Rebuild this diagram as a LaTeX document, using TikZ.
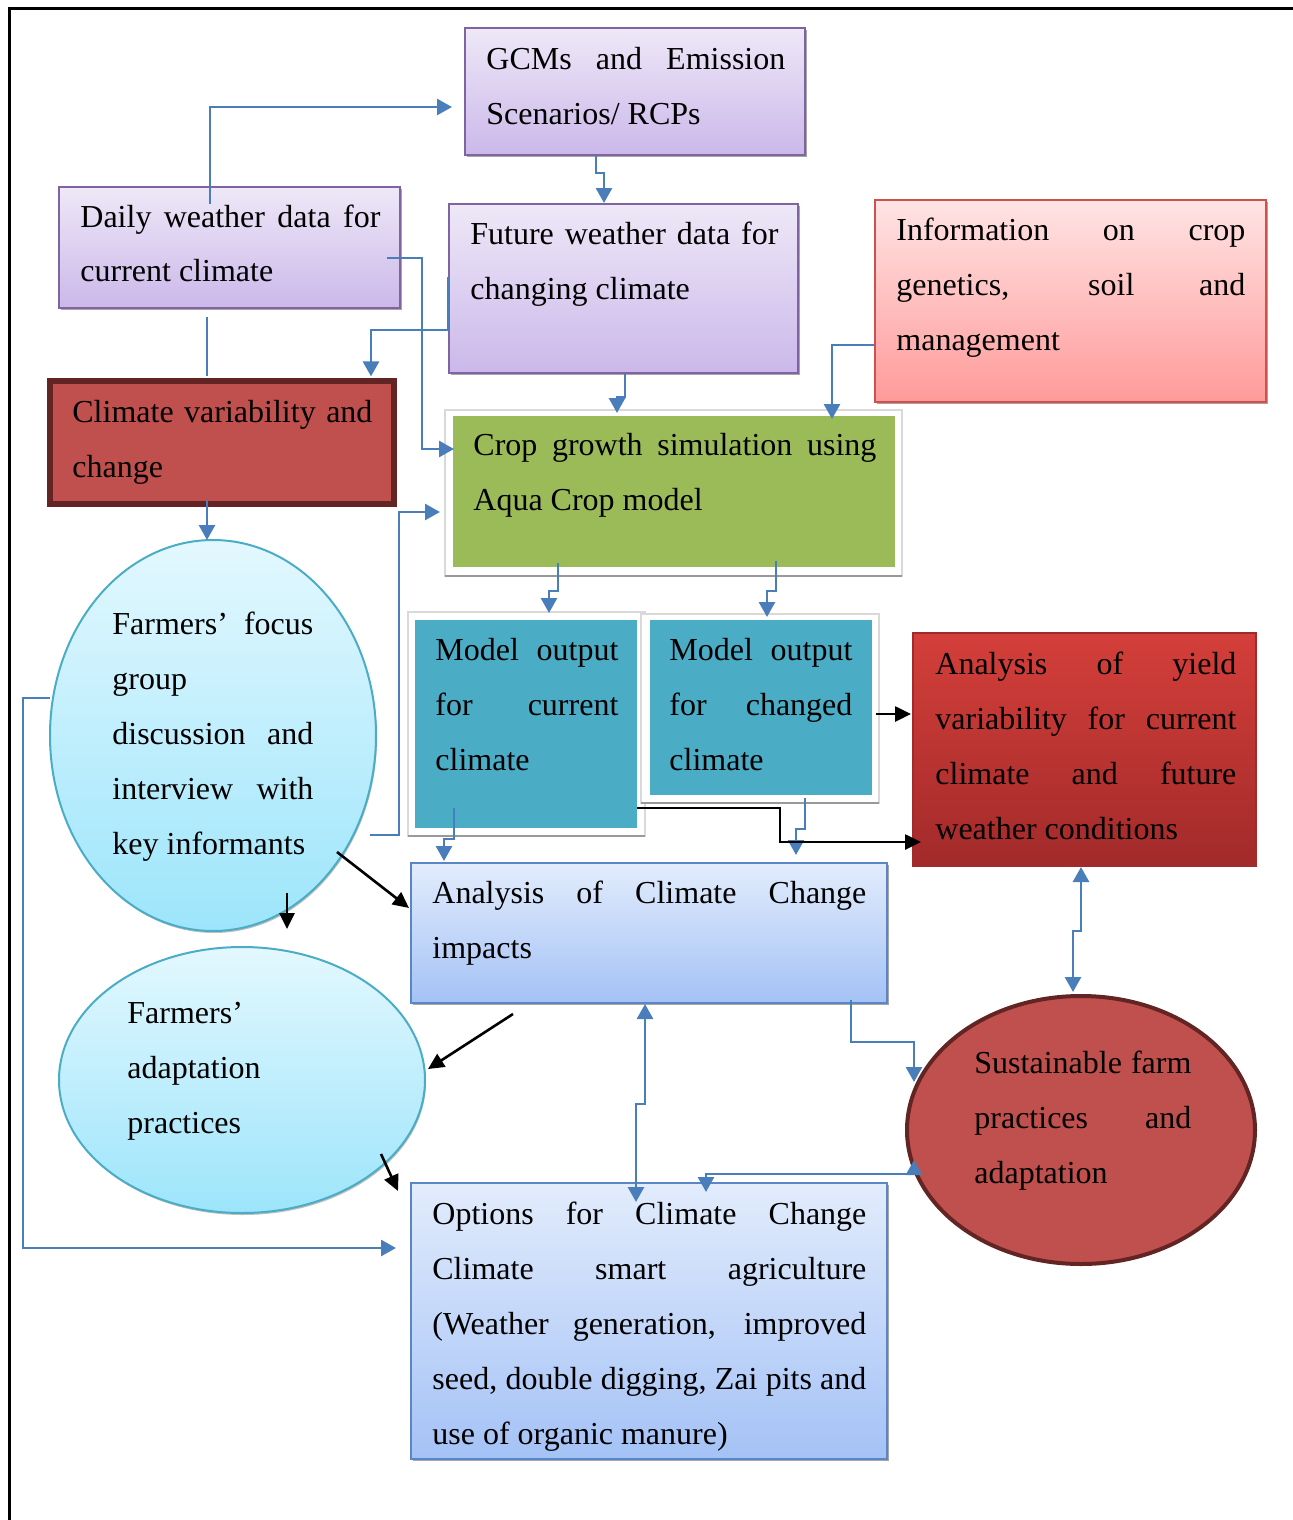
\documentclass[tikz,border=0pt]{standalone}
\usepackage{fontspec}
\setmainfont{Liberation Serif}
\usetikzlibrary{shapes.geometric,arrows.meta,calc,shadows}
\definecolor{lavTop}{HTML}{EEE8F7}
\definecolor{lavBot}{HTML}{CBB8EA}
\definecolor{lavLine}{HTML}{8064A2}
\definecolor{pinkTop}{HTML}{FFE4E4}
\definecolor{pinkBot}{HTML}{FF9A9A}
\definecolor{pinkLine}{HTML}{D0504D}
\definecolor{redTop}{HTML}{D43F3A}
\definecolor{redBot}{HTML}{A22A2A}
\definecolor{blTop}{HTML}{E2ECFC}
\definecolor{blBot}{HTML}{A4C2F6}
\definecolor{blLine}{HTML}{5B86C6}
\definecolor{cyTop}{HTML}{E3F8FE}
\definecolor{cyBot}{HTML}{9DE5FB}
\definecolor{cyLine}{HTML}{4BACC6}
\definecolor{cropGreen}{HTML}{9BBB59}
\definecolor{tealBox}{HTML}{4BACC6}
\definecolor{brick}{HTML}{C0504D}
\definecolor{darkBrick}{HTML}{632523}
\definecolor{conn}{HTML}{4A7EBB}
\newcommand\jl[1]{\makebox[\hsize][s]{\spaceskip=0pt\xspaceskip=0pt #1}}
\newcommand\bnode[6]{\node[#1, minimum width={(#5-#3)*0.5pt}, minimum height={(#6-#4)*0.5pt}] (#2) at ({(#3+#5)/2},{(#4+#6)/2}) {};}
\begin{document}
\begin{tikzpicture}[x=0.5pt,y=-0.5pt,
  shadowed/.style={drop shadow={shadow xshift=1pt,shadow yshift=-1pt,fill=black!35,opacity=1}},
  boxbase/.style={rectangle, inner sep=0pt, line width=1pt},
  lav/.style={boxbase, draw=lavLine, top color=lavTop, bottom color=lavBot, shadowed},
  pinkbox/.style={boxbase, draw=pinkLine, top color=pinkTop, bottom color=pinkBot, shadowed},
  redbox/.style={boxbase, draw=redBot, top color=redTop, bottom color=redBot},
  bluebox/.style={boxbase, draw=blLine, top color=blTop, bottom color=blBot, shadowed},
  greenbox/.style={boxbase, fill=cropGreen},
  tealbox/.style={boxbase, fill=tealBox},
  climbox/.style={boxbase, fill=brick, draw=darkBrick, line width=2.6pt},
  cyell/.style={ellipse, inner sep=0pt, line width=1pt, draw=cyLine, top color=cyTop, bottom color=cyBot, drop shadow={shadow xshift=0.5pt,shadow yshift=-1pt,fill=black!25,opacity=1}},
  redell/.style={ellipse, inner sep=0pt, fill=brick, draw=darkBrick, line width=2pt},
  frame/.style={draw=black!15, line width=0.6pt, fill=white},
  frameshadow/.style={draw=black!40, line width=1.2pt},
  txt/.style={anchor=base west, inner sep=0pt, align=flush left, font=\fontsize{16pt}{27.5pt}\selectfont},
  bl/.style={draw=conn, line width=1.4pt, -{Triangle[length=7.5pt,width=8pt]}},
  blb/.style={draw=conn, line width=1.4pt, {Triangle[length=7.5pt,width=8pt]}-{Triangle[length=7.5pt,width=8pt]}},
  bln/.style={draw=conn, line width=1.4pt},
  bk/.style={draw=black, line width=1.3pt, -{Triangle[length=8pt,width=7.5pt]}}
]
\useasboundingbox (0,0) rectangle (1293,1520);
% outer frame
\draw[line width=1.5pt] (9,1520) -- (9,9) -- (1293,9);

% frames behind boxes
\draw[frame] (445,410) rectangle (902,576);
\draw[frameshadow] (445,576) -- (902,576);
\draw[frame] (408,612) rectangle (645,836);
\draw[frameshadow] (408,836) -- (645,836);
\draw[frame] (641,614) rectangle (879,803);
\draw[frameshadow] (641,803) -- (879,803);

% boxes
\bnode{lav}{gcm}{465}{28}{805}{155}
\bnode{lav}{daily}{59}{187}{400}{308}
\bnode{lav}{future}{449}{204}{798}{373}
\bnode{pinkbox}{info}{875}{200}{1266}{402}
\bnode{climbox}{clim}{50}{381}{394}{504}
\bnode{greenbox}{crop}{453}{416}{895}{567}
\bnode{tealbox}{mcur}{415}{620}{637}{828}
\bnode{tealbox}{mchg}{650}{620}{872}{795}
\bnode{redbox}{ayield}{913}{633}{1256}{866}
\bnode{bluebox}{acc}{411}{863}{887}{1003}
\bnode{bluebox}{opt}{411}{1183}{887}{1459}
\node[cyell, minimum width=163pt, minimum height=195.5pt] (focus) at (213,735.5) {};
\node[cyell, minimum width=183pt, minimum height=133pt] (adapt) at (242,1080) {};
\node[redell, minimum width=174pt, minimum height=134pt] (sust) at (1081,1130) {};

% texts
\node[txt, text width=149.5pt] (gcmT) at (486,70) {\jl{GCMs and Emission}\\Scenarios/ RCPs};
\node[txt, text width=150pt] (dailyT) at (80,227) {\jl{Daily weather data for}\\current climate};
\node[txt, text width=154pt] (futureT) at (470,244) {\jl{Future weather data for}\\changing climate};
\node[txt, text width=174.5pt] (infoT) at (896,240) {\jl{Information on crop}\\\jl{genetics, soil and}\\management};
\node[txt, text width=150pt] (climT) at (72,422) {\jl{Climate variability and}\\change};
\node[txt, text width=201.5pt] (cropT) at (473,455) {\jl{Crop growth simulation using}\\Aqua Crop model};
\node[txt, text width=91.5pt] (mcurT) at (435,660) {\jl{Model output}\\\jl{for current}\\climate};
\node[txt, text width=91.5pt] (mchgT) at (669,660) {\jl{Model output}\\\jl{for changed}\\climate};
\node[txt, text width=150.5pt] (ayieldT) at (935,674) {\jl{Analysis of yield}\\\jl{variability for current}\\\jl{climate and future}\\weather conditions};
\node[txt, text width=100.5pt] (focusT) at (112,634) {\jl{Farmers’ focus}\\group\\\jl{discussion and}\\\jl{interview with}\\key informants};
\node[txt, text width=217pt] (accT) at (432,903) {\jl{Analysis of Climate Change}\\impacts};
\node[txt, text width=100pt] (adaptT) at (127,1023) {Farmers’\\adaptation\\practices};
\node[txt, text width=217pt] (optT) at (432,1224) {\jl{Options for Climate Change}\\\jl{Climate smart agriculture}\\\jl{(Weather generation, improved}\\\jl{seed, double digging, Zai pits and}\\use of organic manure)};
\node[txt, text width=108.5pt] (sustT) at (974,1073) {\jl{Sustainable farm}\\\jl{practices and}\\adaptation};

% blue connectors
\draw[bl] ($(daily.north)+(-19.5,18)$) |- ($(gcm.west)+(-12,15.5)$);
\draw[bl] ($(gcm.south)+(-39,0)$) -- ++(0,17) -| ($(future.north)+(-19.5,0)$);
\draw[bl] ($(daily.east)+(-14,10.5)$) -- ++(35,0) |- ($(crop.west)+(2,-42.5)$);
\draw[bl] ($(future.west)+(0,-11.5)$) -- ++(0,53) -| ($(clim.north)+(149,-2)$);
\draw[bln] ($(daily.south)+(-22.5,8)$) -- ($(clim.north)+(-15,-2)$);
\draw[bl] ($(future.south)+(1.5,0)$) -- ++(0,23) -| ($(crop.north)+(-57,-2)$);
\draw[bl] ($(info.west)+(0,44)$) -| ($(crop.north)+(158,4)$);
\draw[bl] ($(clim.south)+(-15,-7)$) -- ($(focus.north)+(-6,1)$);
\draw[bl] ($(focus.center)+(157,99.5)$) -- ++(29,0) |- ($(crop.west)+(-12,20.5)$);
\draw[bl] ($(crop.south)+(-116,-5)$) -- ++(0,28) -| ($(mcur.north)+(23,-6)$);
\draw[bl] ($(crop.south)+(102,-7)$) -- ++(0,30) -| ($(mchg.north)+(6,-2)$);
\draw[bl] ($(mcur.south)+(-72,-21)$) -- ++(0,31) -| ($(acc.north)+(-205,-1)$);
\draw[bl] ($(mchg.south)+(44,2)$) -- ++(0,31) -| ($(acc.north)+(147,-7)$);
\draw[bl] ($(focus.center)+(-163,-37.5)$) -- ++(-27,0) |- ($(opt.west)+(-14,-73)$);
\draw[blb] ($(acc.south)+(-4,0)$) -- ++(0,100) -| ($(opt.north)+(-13,20)$);
\draw[bl] ($(acc.south)+(202,-4)$) -- ++(0,42) -| ($(sust.center)+(-167,-48)$);
\draw[blb] ($(sust.center)+(-167,30)$) -- ++(0,14) -| ($(opt.north)+(57,10)$);
\draw[blb] ($(ayield.south)+(-3.5,0)$) -- ++(0,64) -| ($(sust.north)+(-8,-2)$);

% black connectors
\draw[bk] ($(mcur.east)+(-1,84)$) -- ++(143,0) |- ($(ayield.west)+(9,92.5)$);
\draw[bk] ($(mchg.east)+(3,6.5)$) -- ($(ayield.west)+(-1,-35.5)$);
\draw[bk] ($(focus.center)+(124,116.5)$) -- ($(acc.west)+(-1,-25)$);
\draw[bk] ($(focus.center)+(74,157.5)$) -- ($(adapt.north)+(45,-17)$);
\draw[bk] ($(acc.south)+(-136,10)$) -- ($(adapt.east)+(2,-11)$);
\draw[bk] ($(adapt.center)+(139,74)$) -- ($(opt.north west)+(-12,9)$);
\end{tikzpicture}
\end{document}
